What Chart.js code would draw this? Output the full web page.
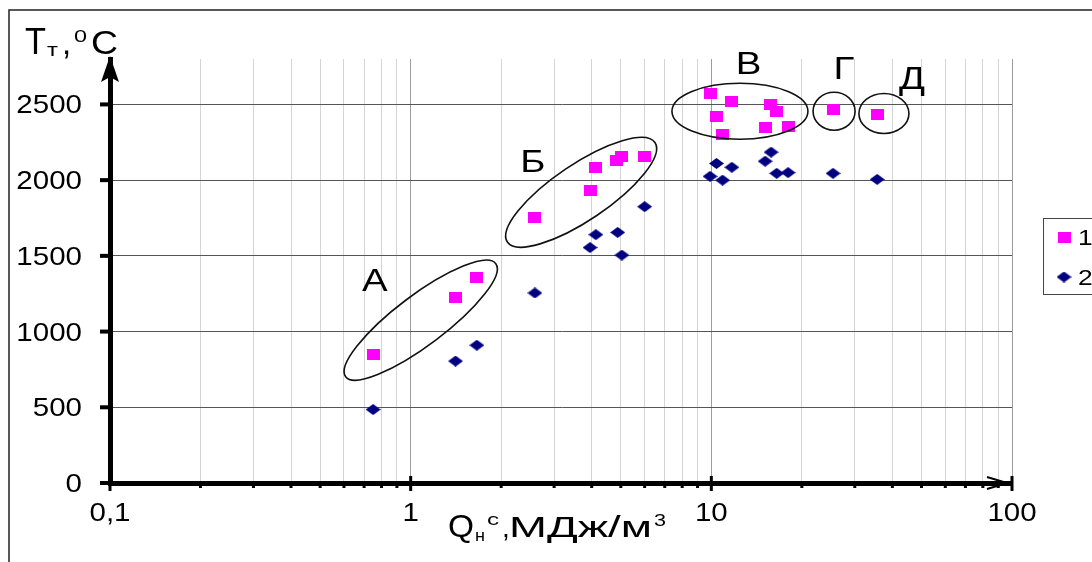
<!DOCTYPE html>
<html>
<head>
<meta charset="utf-8">
<script src="https://cdn.jsdelivr.net/npm/chart.js@4.4.1/dist/chart.umd.min.js"></script>
<style>
  html, body { margin: 0; padding: 0; background: #fff; }
  #wrap { position: relative; width: 1092px; height: 562px; }
</style>
</head>
<body>
<div id="wrap"><canvas id="chart"></canvas></div>
<script>
// series 1 (squares) and 2 (diamonds): Q, MJ/m3 vs T, °C
const heatValues1 = [0.75, 1.41, 1.66, 2.59, 3.95, 4.13, 4.85, 5.04, 6.0, 9.9, 11.7, 10.4, 10.9, 15.7, 16.5, 15.1, 18.0, 25.4, 35.6];
const tempValues1 = [850, 1225, 1360, 1755, 1930, 2085, 2130, 2155, 2155, 2575, 2520, 2420, 2300, 2500, 2455, 2350, 2355, 2465, 2435];
const heatValues2 = [0.75, 1.41, 1.66, 2.59, 6.0, 4.13, 4.88, 3.95, 5.04, 10.4, 11.7, 9.9, 10.9, 15.8, 15.1, 16.5, 18.0, 25.4, 35.6];
const tempValues2 = [485, 805, 910, 1255, 1825, 1640, 1655, 1555, 1505, 2110, 2085, 2025, 2000, 2185, 2125, 2045, 2050, 2045, 2005];
const seriesNames = ['1', '2'];

const yTickValues = [0, 500, 1000, 1500, 2000, 2500];
const xDecades = [0.1, 1, 10, 100];
const xTickLabels = ['0,1', '1', '10', '100'];

// groups circled on the chart
const groupNames = ['А', 'Б', 'В', 'Г', 'Д'];
const groupCenterQ = [1.08, 3.69, 12.45, 25.6, 37.5];
const groupCenterT = [1075, 1920, 2455, 2455, 2440];
const groupLabelQ = [0.76, 2.55, 13.3, 27.6, 46.5];
const groupLabelT = [1346, 2130, 2777, 2744, 2678];

const xTickValues = [];
xDecades.slice(0, 3).forEach(d => {
  for (let k = 1; k <= 9; k++) xTickValues.push(d * k);
});
xTickValues.push(100);

const isDecade = v => xDecades.some(d => Math.abs(v - d) / d < 1e-9);

const FONT = '"Liberation Sans", Arial, sans-serif';

function makeMarker(w, h, color, shape) {
  const c = document.createElement('canvas');
  c.width = w;
  c.height = h;
  const g = c.getContext('2d');
  g.fillStyle = color;
  if (shape === 'rect') {
    g.fillRect(0, 0, w, h);
  } else {
    g.beginPath();
    g.moveTo(w / 2, 0);
    g.lineTo(w, h / 2);
    g.lineTo(w / 2, h);
    g.lineTo(0, h / 2);
    g.closePath();
    g.fill();
  }
  return c;
}

const squareMark = makeMarker(13, 11, '#ff00ff', 'rect');
const diamondMark = makeMarker(15, 11, '#000080', 'diamond');

function txt(ctx, s, x, y, size, align, sx) {
  ctx.save();
  ctx.font = size + 'px ' + FONT;
  ctx.textAlign = align;
  ctx.textBaseline = 'alphabetic';
  ctx.translate(x, y);
  ctx.scale(sx, 1);
  ctx.fillText(s, 0, 0);
  ctx.restore();
}

// left aligned text squeezed/stretched to a given width
function txtFit(ctx, s, x, y, size, width) {
  ctx.save();
  ctx.font = size + 'px ' + FONT;
  const w = ctx.measureText(s).width;
  ctx.restore();
  txt(ctx, s, x, y, size, 'left', width / w);
}

const ellipseShape = [
  { rx: 94, ry: 25, rot: -37 },
  { rx: 89, ry: 28, rot: -34 },
  { rx: 68, ry: 28, rot: 0 },
  { rx: 21, ry: 19, rot: 0 },
  { rx: 25, ry: 20, rot: 0 }
];

const decorPlugin = {
  id: 'decor',
  afterDatasetsDraw(chart) {
    const { ctx, scales: { x, y } } = chart;
    ctx.save();
    ctx.strokeStyle = '#111';
    ctx.lineWidth = 1.6;
    ctx.fillStyle = '#000';
    groupNames.forEach((name, i) => {
      const cx = x.getPixelForValue(groupCenterQ[i]);
      const cy = y.getPixelForValue(groupCenterT[i]);
      const s = ellipseShape[i];
      ctx.beginPath();
      ctx.ellipse(cx, cy, s.rx, s.ry, s.rot * Math.PI / 180, 0, 2 * Math.PI);
      ctx.stroke();
      txt(ctx, name, x.getPixelForValue(groupLabelQ[i]), y.getPixelForValue(groupLabelT[i]) + 11.5, 32, 'center', 1.2);
    });
    ctx.restore();
  },
  afterDraw(chart) {
    const { ctx, chartArea: area, scales: { x, y } } = chart;
    ctx.save();
    ctx.fillStyle = '#000';
    ctx.strokeStyle = '#000';

    // y tick marks and labels
    yTickValues.forEach(v => {
      const py = y.getPixelForValue(v);
      ctx.fillRect(area.left - 10, py - 2, 10, 4);
      txt(ctx, String(v), 82, py + 9, 25, 'right', 1.18);
    });

    // x tick marks
    xTickValues.forEach(v => {
      const px = x.getPixelForValue(v);
      if (isDecade(v)) ctx.fillRect(px - 1.5, area.bottom - 7, 3, 15);
      else ctx.fillRect(px - 1.5, area.bottom, 3, 5);
    });
    xDecades.forEach((v, i) => {
      txt(ctx, xTickLabels[i], x.getPixelForValue(v), 521, 25, 'center', 1.18);
    });

    // arrows
    ctx.beginPath();
    ctx.moveTo(area.left, area.top - 3);
    ctx.lineTo(area.left + 9, area.top + 23);
    ctx.lineTo(area.left, area.top + 18);
    ctx.lineTo(area.left - 9, area.top + 23);
    ctx.closePath();
    ctx.fill();

    ctx.lineWidth = 2;
    ctx.beginPath();
    ctx.moveTo(area.right - 25, area.bottom - 6);
    ctx.lineTo(area.right - 5, area.bottom);
    ctx.lineTo(area.right - 25, area.bottom + 6);
    ctx.stroke();

    // axis titles
    txtFit(ctx, 'T', 25, 54, 37, 21);
    txtFit(ctx, 'т', 47, 56, 19, 11);
    txt(ctx, ',', 62, 54, 33, 'left', 1);
    txtFit(ctx, '0', 74, 42, 16, 13);
    txtFit(ctx, 'C', 91, 54, 34, 27);

    txtFit(ctx, 'Q', 448, 537, 32, 26);
    txtFit(ctx, 'н', 475, 541, 16, 10);
    txtFit(ctx, 'с', 487, 525, 16, 12);
    txt(ctx, ',', 502, 537, 28, 'left', 1);
    txtFit(ctx, 'МДж/м', 509, 537, 29, 143);
    txtFit(ctx, '3', 654, 526, 16, 12);

    // legend
    ctx.lineWidth = 1;
    ctx.strokeStyle = '#444';
    ctx.strokeRect(1043.5, 218.5, 60, 76);
    chart.data.datasets.forEach((ds, i) => {
      const cy = 237 + i * 40;
      const img = ds.pointStyle;
      ctx.drawImage(img, 1064 - img.width / 2, cy - img.height / 2);
      txt(ctx, ds.label, 1078, cy + 8, 22, 'left', 1.2);
    });

    // outer frame
    ctx.strokeStyle = '#222';
    ctx.lineWidth = 1.5;
    ctx.beginPath();
    ctx.moveTo(9, 562);
    ctx.lineTo(9, 10);
    ctx.lineTo(1092, 10);
    ctx.stroke();
    ctx.restore();
  }
};

new Chart(document.getElementById('chart'), {
  type: 'scatter',
  data: {
    datasets: [
      {
        label: seriesNames[0],
        data: heatValues1.map((q, i) => ({ x: q, y: tempValues1[i] })),
        pointStyle: squareMark,
        pointRadius: 7,
        backgroundColor: '#ff00ff'
      },
      {
        label: seriesNames[1],
        data: heatValues2.map((q, i) => ({ x: q, y: tempValues2[i] })),
        pointStyle: diamondMark,
        pointRadius: 7,
        backgroundColor: '#000080'
      }
    ]
  },
  options: {
    responsive: true,
    maintainAspectRatio: false,
    animation: false,
    layout: { padding: { left: 110, right: 80, top: 59, bottom: 79 } },
    plugins: { legend: { display: false }, tooltip: { enabled: false } },
    scales: {
      x: {
        type: 'logarithmic',
        min: 0.1,
        max: 100,
        afterBuildTicks: s => { s.ticks = xTickValues.map(v => ({ value: v })); },
        afterFit: s => { s.height = 0; },
        ticks: { display: false },
        grid: {
          drawTicks: false,
          color: c => (c.tick && isDecade(c.tick.value) ? '#9c9c9c' : '#d4d4d4'),
          lineWidth: 1
        },
        border: { color: '#000', width: 5 }
      },
      y: {
        min: 0,
        max: 2800,
        afterBuildTicks: s => { s.ticks = yTickValues.map(v => ({ value: v })); },
        afterFit: s => { s.width = 0; },
        ticks: { display: false },
        grid: { drawTicks: false, color: '#555', lineWidth: 1 },
        border: { color: '#000', width: 5 }
      }
    }
  },
  plugins: [decorPlugin]
});
</script>
</body>
</html>
